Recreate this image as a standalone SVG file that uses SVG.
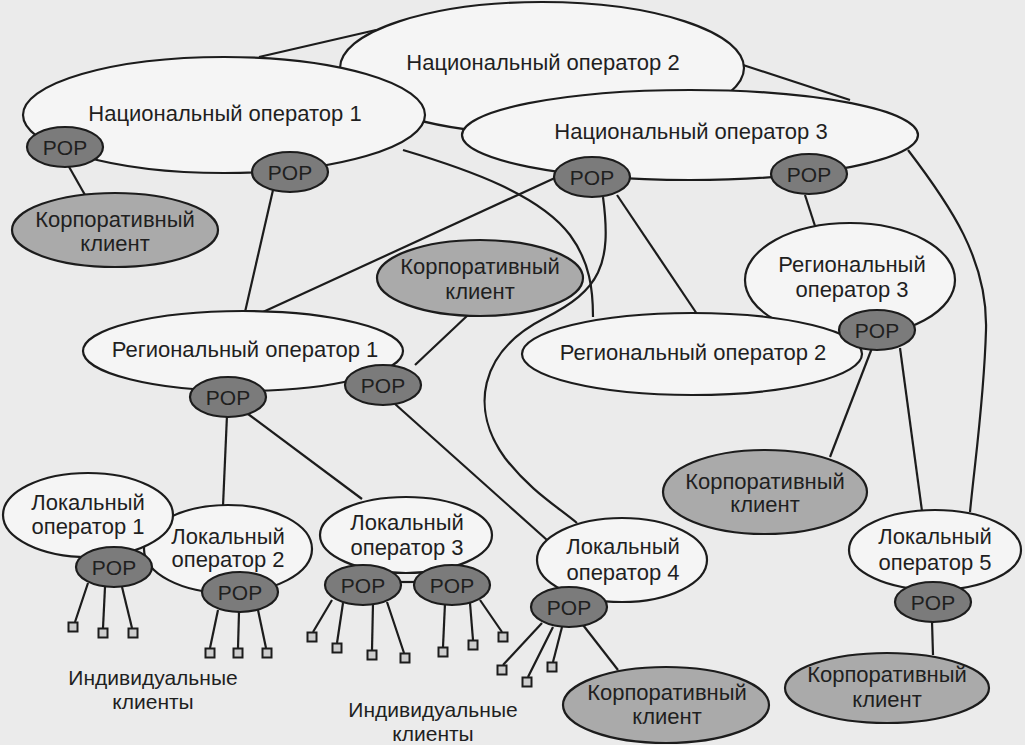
<svg xmlns="http://www.w3.org/2000/svg" width="1025" height="745" viewBox="0 0 1025 745">
<style>
.ln{fill:none;stroke:#1c1c1c;stroke-width:2.2}
.op{fill:#f5f5f5;stroke:#1c1c1c;stroke-width:2.2}
.pop{fill:#7b7b7b;stroke:#1c1c1c;stroke-width:2.2}
.corp{fill:#aaaaaa;stroke:#1c1c1c;stroke-width:2.2}
.sq{fill:#cdcdcd;stroke:#1c1c1c;stroke-width:2}
text{font-family:"Liberation Sans",Arial,sans-serif;font-size:22px;fill:#1f1f1f;text-anchor:middle}
.pt{font-size:21px}
.ic{font-size:21px}
</style>
<rect width="1025" height="745" fill="#ebebeb"/>
<g id="connectors">
<line class="ln" x1="259" y1="57" x2="376" y2="30"/>
<line class="ln" x1="425" y1="121" x2="467" y2="127"/>
<line class="ln" x1="743" y1="65" x2="850" y2="100"/>
<path class="ln" d="M908,150 C950,205 988,260 986,330 C984,400 975,460 970,512"/>
<path class="ln" d="M403,150 C470,170 540,195 570,235 C590,262 593,290 593,317"/>
<path class="ln" d="M603,197 C612,265 600,290 545,318 C478,352 470,410 505,458 C530,490 555,505 577,523"/>
<line class="ln" x1="557" y1="177" x2="263" y2="312"/>
<line class="ln" x1="617" y1="195" x2="697" y2="314"/>
<line class="ln" x1="630" y1="176" x2="772" y2="175"/>
<line class="ln" x1="805" y1="195" x2="815" y2="226"/>
<line class="ln" x1="68" y1="165" x2="85" y2="195"/>
<line class="ln" x1="273" y1="190" x2="245" y2="312"/>
<line class="ln" x1="415" y1="365" x2="468" y2="315"/>
<line class="ln" x1="395" y1="404" x2="547" y2="540"/>
<line class="ln" x1="227" y1="415" x2="223" y2="506"/>
<line class="ln" x1="248" y1="414" x2="362" y2="499"/>
<line class="ln" x1="872" y1="348" x2="830" y2="457"/>
<line class="ln" x1="900" y1="348" x2="922" y2="511"/>
<line class="ln" x1="932" y1="621" x2="933" y2="655"/>
<line class="ln" x1="583" y1="625" x2="618" y2="670"/>
<line class="ln" x1="398" y1="582" x2="416" y2="582"/>
<line class="ln" x1="88" y1="583" x2="75" y2="622"/>
<line class="ln" x1="105" y1="587" x2="103" y2="628"/>
<line class="ln" x1="122" y1="587" x2="132" y2="628"/>
<line class="ln" x1="218" y1="610" x2="210" y2="648"/>
<line class="ln" x1="239" y1="612" x2="238" y2="648"/>
<line class="ln" x1="258" y1="610" x2="266" y2="648"/>
<line class="ln" x1="332" y1="600" x2="313" y2="632"/>
<line class="ln" x1="343" y1="603" x2="337" y2="643"/>
<line class="ln" x1="373" y1="603" x2="372" y2="650"/>
<line class="ln" x1="387" y1="602" x2="404" y2="653"/>
<line class="ln" x1="445" y1="603" x2="443" y2="647"/>
<line class="ln" x1="470" y1="603" x2="473" y2="640"/>
<line class="ln" x1="480" y1="600" x2="502" y2="632"/>
<line class="ln" x1="542" y1="623" x2="503" y2="665"/>
<line class="ln" x1="553" y1="627" x2="528" y2="677"/>
<line class="ln" x1="562" y1="627" x2="553" y2="662"/>
</g>
<g id="nat2"><ellipse class="op" cx="542" cy="68" rx="202" ry="66"/><text x="543" y="70">Национальный оператор 2</text></g>
<g id="nat1"><ellipse class="op" cx="224" cy="115" rx="201" ry="58"/><text x="225" y="121">Национальный оператор 1</text></g>
<g id="nat3"><ellipse class="op" cx="690" cy="135" rx="228" ry="45"/><text x="691" y="139">Национальный оператор 3</text></g>
<g id="pop-n1a"><ellipse class="pop" cx="65" cy="147" rx="38" ry="20"/><text class="pt" x="65" y="155">POP</text></g>
<g id="pop-n1b"><ellipse class="pop" cx="290" cy="172" rx="38" ry="20"/><text class="pt" x="290" y="180">POP</text></g>
<g id="pop-n3a"><ellipse class="pop" cx="592" cy="177" rx="38" ry="20"/><text class="pt" x="592" y="185">POP</text></g>
<g id="pop-n3b"><ellipse class="pop" cx="809" cy="174" rx="38" ry="20"/><text class="pt" x="809" y="182">POP</text></g>
<g id="corp1"><ellipse class="corp" cx="115" cy="230" rx="103" ry="37"/><text x="115" y="227">Корпоративный</text><text x="115" y="251">клиент</text></g>
<g id="corp2"><ellipse class="corp" cx="480" cy="278" rx="103" ry="38"/><text x="480" y="274">Корпоративный</text><text x="480" y="299">клиент</text></g>
<g id="reg3"><ellipse class="op" cx="850" cy="280" rx="105" ry="57"/><text x="852" y="272">Региональный</text><text x="852" y="297">оператор 3</text></g>
<g id="reg1"><ellipse class="op" cx="243" cy="351" rx="160" ry="40"/><text x="245" y="357">Региональный оператор 1</text></g>
<g id="reg2"><ellipse class="op" cx="692" cy="354" rx="170" ry="41"/><text x="693" y="360">Региональный оператор 2</text></g>
<g id="pop-r1a"><ellipse class="pop" cx="228" cy="397" rx="38" ry="20"/><text class="pt" x="228" y="405">POP</text></g>
<g id="pop-r1b"><ellipse class="pop" cx="383" cy="385" rx="38" ry="20"/><text class="pt" x="383" y="393">POP</text></g>
<g id="pop-r3"><ellipse class="pop" cx="877" cy="330" rx="38" ry="20"/><text class="pt" x="877" y="338">POP</text></g>
<g id="corp4"><ellipse class="corp" cx="765" cy="492" rx="102" ry="42"/><text x="765" y="489">Корпоративный</text><text x="765" y="512">клиент</text></g>
<g id="loc2"><ellipse class="op" cx="228" cy="549" rx="84" ry="44"/><text x="228" y="544">Локальный</text><text x="228" y="567">оператор 2</text></g>
<g id="loc1"><ellipse class="op" cx="88" cy="515" rx="85" ry="42"/><text x="88" y="510">Локальный</text><text x="88" y="534">оператор 1</text></g>
<g id="loc3"><ellipse class="op" cx="406" cy="535" rx="86" ry="38"/><text x="407" y="530">Локальный</text><text x="407" y="555">оператор 3</text></g>
<g id="loc4"><ellipse class="op" cx="622" cy="560" rx="85" ry="42"/><text x="623" y="554">Локальный</text><text x="623" y="580">оператор 4</text></g>
<g id="loc5"><ellipse class="op" cx="935" cy="550" rx="86" ry="40"/><text x="935" y="544">Локальный</text><text x="935" y="570">оператор 5</text></g>
<g id="pop-l1"><ellipse class="pop" cx="114" cy="567" rx="38" ry="20"/><text class="pt" x="114" y="575">POP</text></g>
<g id="pop-l2"><ellipse class="pop" cx="240" cy="592" rx="38" ry="20"/><text class="pt" x="240" y="600">POP</text></g>
<g id="pop-l3a"><ellipse class="pop" cx="363" cy="585" rx="38" ry="20"/><text class="pt" x="363" y="593">POP</text></g>
<g id="pop-l3b"><ellipse class="pop" cx="452" cy="585" rx="38" ry="20"/><text class="pt" x="452" y="593">POP</text></g>
<g id="pop-l4"><ellipse class="pop" cx="569" cy="607" rx="38" ry="20"/><text class="pt" x="569" y="615">POP</text></g>
<g id="pop-l5"><ellipse class="pop" cx="933" cy="602" rx="38" ry="20"/><text class="pt" x="933" y="610">POP</text></g>
<g id="corp5"><ellipse class="corp" cx="887" cy="688" rx="102" ry="35"/><text x="887" y="682">Корпоративный</text><text x="887" y="707">клиент</text></g>
<g id="corp6"><ellipse class="corp" cx="666" cy="705" rx="103" ry="38"/><text x="667" y="700">Корпоративный</text><text x="667" y="724">клиент</text></g>
<g id="clients-1">
<rect class="sq" x="68.5" y="622.5" width="9" height="9"/><rect class="sq" x="98.5" y="628.5" width="9" height="9"/><rect class="sq" x="128.5" y="628.5" width="9" height="9"/>
<rect class="sq" x="205.5" y="648.5" width="9" height="9"/><rect class="sq" x="233.5" y="648.5" width="9" height="9"/><rect class="sq" x="262.5" y="648.5" width="9" height="9"/>
<text class="ic" x="153" y="685">Индивидуальные</text><text class="ic" x="153" y="709">клиенты</text>
</g>
<g id="clients-2">
<rect class="sq" x="307.5" y="632.5" width="9" height="9"/><rect class="sq" x="332.5" y="643.5" width="9" height="9"/><rect class="sq" x="367.5" y="650.5" width="9" height="9"/><rect class="sq" x="400.5" y="653.5" width="9" height="9"/>
<rect class="sq" x="438.5" y="647.5" width="9" height="9"/><rect class="sq" x="468.5" y="640.5" width="9" height="9"/><rect class="sq" x="498.5" y="632.5" width="9" height="9"/>
<rect class="sq" x="497.5" y="665.5" width="9" height="9"/><rect class="sq" x="522.5" y="677.5" width="9" height="9"/><rect class="sq" x="547.5" y="662.5" width="9" height="9"/>
<text class="ic" x="433" y="717">Индивидуальные</text><text class="ic" x="433" y="741">клиенты</text>
</g>
</svg>
